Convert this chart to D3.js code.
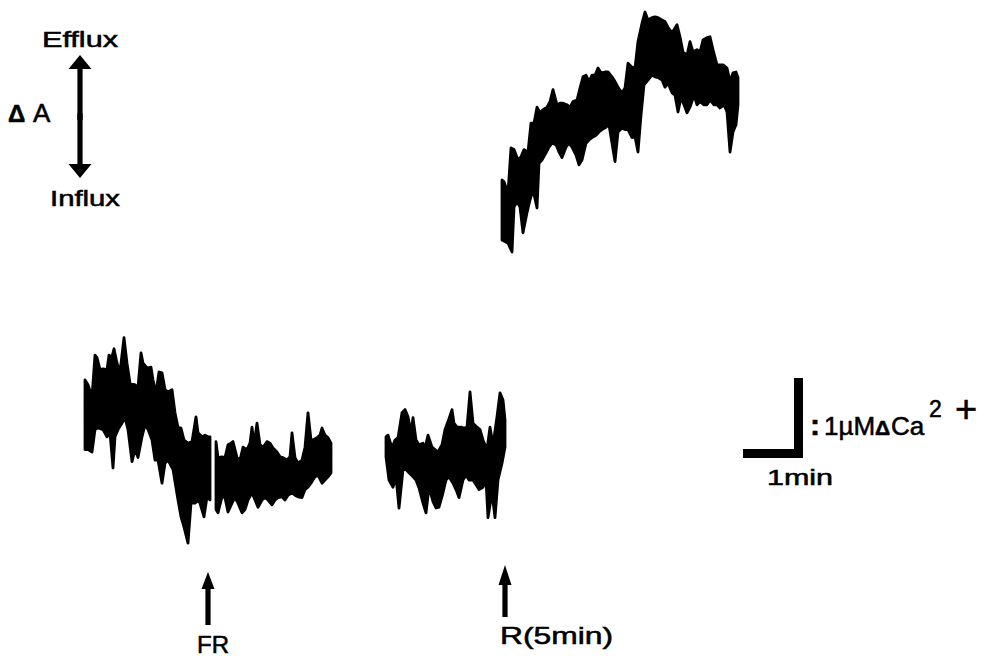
<!DOCTYPE html>
<html>
<head>
<meta charset="utf-8">
<script src="https://cdn.jsdelivr.net/npm/d3@7/dist/d3.min.js"></script>
<style>
  html, body { margin: 0; padding: 0; background: #fff; }
  svg { display: block; }
  text { font-family: "Liberation Sans", Arial, Helvetica, sans-serif; fill: #000; stroke: #000; stroke-width: 0.55px; }
</style>
</head>
<body>
<div id="chart"></div>
<script>
// Absorbance trace recorded as ΔCa (µM, arbitrary zero) against chart time (s).
// Each segment is a noisy band: its upper and lower envelope as [time, µM].

// Control, up to the FR addition
const controlUpper = [
  [0,2.25],[3,2.19],[7,2.04],[10,2.56],[12,2.53],[15,2.38],[18,2.39],[22,2.38],[24,2.56],[27,2.54],
  [29,2.64],[32,2.46],[35,2.35],[39,2.78],[42,2.46],[45,2.21],[50,2.19],[53,2.16],[56,2.59],[58,2.46],
  [62,2.40],[66,2.41],[68,2.25],[71,2.09],[74,2.35],[77,2.34],[80,2.13],[83,2.10],[87,2.13],[90,1.84],
  [93,1.66],[96,1.65],[99,1.50],[103,1.46],[107,1.48],[111,1.79],[113,1.59],[117,1.54],[120,1.56],[123,1.54],[125,1.54]
];
const controlLower = [
  [0,1.38],[3,1.38],[7,1.35],[10,1.63],[13,1.65],[18,1.63],[22,1.54],[25,1.59],[28,1.15],[30,1.54],
  [33,1.63],[37,1.71],[40,1.78],[43,1.63],[47,1.23],[50,1.38],[53,1.28],[57,1.54],[60,1.69],[63,1.63],
  [67,1.50],[70,1.25],[73,1.25],[77,0.96],[80,1.21],[83,1.25],[88,1.13],[93,0.75],[96,0.54],[99,0.41],
  [103,0.21],[106,0.71],[110,0.71],[114,0.75],[119,0.54],[122,0.79],[125,0.75]
];

// After FR
const frUpper = [
  [131,1.48],[133,1.28],[137,1.29],[140,1.28],[143,1.44],[146,1.46],[148,1.48],[152,1.28],[155,1.25],[158,1.41],
  [162,1.38],[165,1.46],[167,1.66],[169,1.44],[172,1.71],[175,1.44],[178,1.41],[182,1.48],[185,1.46],[188,1.40],
  [192,1.35],[195,1.29],[198,1.28],[202,1.25],[205,1.29],[207,1.59],[210,1.28],[213,1.21],[217,1.25],[220,1.41],
  [223,1.84],[226,1.50],[228,1.50],[232,1.53],[235,1.56],[237,1.65],[240,1.56],[243,1.53],[246,1.46]
];
const frLower = [
  [131,0.63],[133,0.59],[137,0.79],[140,0.78],[143,0.60],[147,0.71],[150,0.78],[153,0.71],[157,0.59],[160,0.63],
  [163,0.75],[167,0.84],[170,0.75],[173,0.66],[177,0.75],[180,0.78],[183,0.75],[187,0.69],[190,0.75],[193,0.78],
  [197,0.79],[200,0.75],[203,0.81],[207,0.84],[210,0.81],[213,0.79],[217,0.78],[220,0.88],[223,0.91],[227,0.98],
  [230,1.04],[233,1.06],[237,0.96],[240,1.00],[243,1.04],[246,1.09]
];

// Later in FR, up to R
const lateUpper = [
  [301,1.54],[303,1.56],[307,1.40],[310,1.50],[313,1.53],[317,1.84],[320,1.88],[323,1.79],[326,1.59],[328,1.78],
  [331,1.50],[334,1.44],[338,1.46],[340,1.40],[343,1.56],[347,1.41],[350,1.38],[353,1.35],[357,1.44],[360,1.63],
  [363,1.73],[367,1.88],[369,1.71],[372,1.66],[376,1.66],[379,1.65],[382,1.66],[385,2.10],[388,1.71],[392,1.66],
  [395,1.63],[398,1.50],[402,1.38],[405,1.66],[408,1.44],[412,1.79],[415,2.09],[418,2.00],[420,1.75]
];
const lateLower = [
  [301,1.29],[304,1.00],[308,0.91],[311,1.04],[314,0.65],[318,1.13],[321,1.13],[324,1.09],[328,1.04],[331,1.00],
  [334,0.90],[338,0.71],[341,0.59],[344,0.91],[348,0.73],[351,0.65],[354,0.66],[358,0.84],[361,1.00],[364,1.04],
  [368,0.96],[371,0.88],[374,0.78],[378,1.00],[381,1.06],[384,1.00],[388,1.00],[391,0.94],[394,0.88],[398,0.91],
  [401,1.00],[403,0.53],[407,0.84],[410,0.53],[413,1.00],[417,1.21],[420,1.41]
];

// After R (5 min)
const recoveryUpper = [
  [417,4.75],[419,4.73],[423,4.59],[426,5.15],[429,5.13],[433,5.00],[436,5.04],[439,5.13],[443,5.10],[446,5.46],
  [449,5.46],[452,5.66],[455,5.59],[458,5.63],[462,5.66],[465,5.73],[468,5.88],[472,5.69],[475,5.71],[478,5.71],
  [482,5.69],[485,5.66],[488,5.73],[492,5.75],[495,5.90],[498,6.04],[501,6.06],[504,5.98],[507,6.06],[510,6.06],
  [513,6.15],[516,6.09],[520,6.10],[523,6.10],[527,6.04],[530,5.98],[533,5.91],[537,5.84],[540,5.90],[543,6.21],
  [547,6.16],[550,6.15],[553,6.48],[557,6.71],[560,6.85],[563,6.75],[567,6.78],[570,6.79],[573,6.78],[577,6.75],
  [580,6.73],[583,6.66],[587,6.59],[590,6.65],[592,6.69],[595,6.54],[598,6.35],[602,6.31],[605,6.48],[608,6.35],
  [612,6.38],[615,6.35],[618,6.50],[622,6.53],[625,6.54],[628,6.38],[632,6.19],[635,6.19],[638,6.19],[642,6.15],
  [645,5.98],[648,6.09],[651,6.10],[653,6.03]
];
const recoveryLower = [
  [417,4.00],[420,3.98],[423,3.96],[427,3.85],[429,4.41],[432,4.48],[435,4.41],[438,4.09],[442,4.34],[445,4.50],
  [448,4.63],[452,4.40],[454,4.96],[457,5.00],[461,5.09],[464,5.16],[467,5.21],[471,5.19],[474,5.10],[477,5.03],
  [481,5.16],[484,5.21],[487,5.16],[491,5.06],[494,4.94],[497,5.00],[501,5.21],[504,5.25],[507,5.28],[511,5.31],
  [514,5.35],[517,5.38],[521,5.41],[524,5.44],[527,5.21],[530,4.98],[533,5.35],[537,5.40],[540,5.38],[543,5.38],
  [547,5.28],[550,5.29],[553,5.10],[556,5.56],[559,5.94],[563,6.00],[567,6.06],[570,6.04],[573,6.03],[577,6.00],
  [580,5.91],[583,5.96],[587,5.84],[590,5.81],[593,5.60],[596,5.78],[599,5.69],[602,5.59],[605,5.66],[609,5.81],
  [612,5.69],[615,5.73],[619,5.69],[622,5.69],[625,5.75],[629,5.69],[632,5.69],[635,5.65],[639,5.69],[642,5.60],
  [645,5.10],[648,5.35],[651,5.44],[653,5.69]
];

// Event markers (chart time, s)
const markerLabels = ["FR", "R(5min)"];
const markerTimes = [123, 420];

// Calibration bars
const calibrationMinutes = [1];
const calibrationMicromolar = [1];

// Direction labels for the absorbance axis
const directionLabels = ["Efflux", "Influx"];

const W = 988, H = 658;
const svg = d3.select("#chart").append("svg")
  .attr("width", W).attr("height", H)
  .attr("viewBox", `0 0 ${W} ${H}`);
svg.append("rect").attr("width", W).attr("height", H).attr("fill", "#fff");

// 1 s of chart time = 1 px, 1 µM = 80 px
const x = d3.scaleLinear().domain([0, 653]).range([85, 738]);
const y = d3.scaleLinear().domain([0, 7]).range([560, 0]);

const band = d3.line()
  .x(d => x(d[0]))
  .y(d => y(d[1]))
  .curve(d3.curveLinearClosed);

const segments = [
  [controlUpper, controlLower],
  [frUpper, frLower],
  [lateUpper, lateLower],
  [recoveryUpper, recoveryLower]
];

svg.append("g").attr("class", "traces")
  .selectAll("path")
  .data(segments)
  .join("path")
  .attr("d", ([upper, lower]) => band(upper.concat(lower.slice().reverse())))
  .attr("fill", "#000")
  .attr("stroke", "#000")
  .attr("stroke-width", 2.8)
  .attr("stroke-linejoin", "round");

// Filled arrow: tip, head base and tail given as y positions
function arrowPath(cx, tipY, headY, tailY, headHalf, shaftHalf) {
  const p = d3.path();
  p.moveTo(cx, tipY);
  p.lineTo(cx + headHalf, headY);
  p.lineTo(cx + shaftHalf, headY);
  p.lineTo(cx + shaftHalf, tailY);
  p.lineTo(cx - shaftHalf, tailY);
  p.lineTo(cx - shaftHalf, headY);
  p.lineTo(cx - headHalf, headY);
  p.closePath();
  return p.toString();
}

// Event arrows and labels
const markerLayout = [
  { tip: 572, head: 589, tail: 625, base: 653, dx: -11 },
  { tip: 565, head: 585, tail: 617, base: 644, dx: -5, len: 113 }
];
const markers = svg.append("g").attr("class", "markers");
markerTimes.forEach((t, i) => {
  const L = markerLayout[i];
  markers.append("path")
    .attr("d", arrowPath(x(t), L.tip, L.head, L.tail, 6.5, 2.6))
    .attr("fill", "#000");
  const label = markers.append("text")
    .attr("x", x(t) + L.dx)
    .attr("y", L.base)
    .attr("font-size", 24)
    .text(markerLabels[i]);
  if (L.len) label.attr("textLength", L.len).attr("lengthAdjust", "spacingAndGlyphs");
});

// ΔA direction indicator
const dir = svg.append("g").attr("class", "direction");
dir.append("path").attr("d", arrowPath(80, 55, 69, 120, 11.5, 2.6)).attr("fill", "#000");
dir.append("path").attr("d", arrowPath(80, 55, 69, 120, 11.5, 2.6))
  .attr("transform", "translate(0,233) scale(1,-1)").attr("fill", "#000");
dir.append("text").attr("x", 42).attr("y", 47).attr("font-size", 22)
  .attr("textLength", 76).attr("lengthAdjust", "spacingAndGlyphs").text(directionLabels[0]);
dir.append("text").attr("x", 50).attr("y", 206).attr("font-size", 22)
  .attr("textLength", 70).attr("lengthAdjust", "spacingAndGlyphs").text(directionLabels[1]);
const dA = dir.append("text").attr("y", 122);
dA.append("tspan").attr("x", 8).attr("font-size", 24).attr("font-weight", "bold").text("Δ");
dA.append("tspan").attr("x", 33).attr("font-size", 26).text("A");

// Calibration: 1 min horizontal, 1 µM vertical, joined at the corner
const cal = svg.append("g").attr("class", "calibration");
const cornerX = 803, cornerY = 458, thick = 9;
const barW = x(calibrationMinutes[0] * 60) - x(0);
const barH = y(0) - y(calibrationMicromolar[0]);
cal.append("rect").attr("x", cornerX - barW).attr("y", cornerY - thick)
  .attr("width", barW).attr("height", thick).attr("fill", "#000");
cal.append("rect").attr("x", cornerX - thick).attr("y", cornerY - barH)
  .attr("width", thick).attr("height", barH).attr("fill", "#000");
cal.append("text").attr("x", 767).attr("y", 485).attr("font-size", 22)
  .attr("textLength", 66).attr("lengthAdjust", "spacingAndGlyphs")
  .text(calibrationMinutes[0] + "min");
const ca = cal.append("text").attr("y", 435).attr("font-size", 26);
ca.append("tspan").attr("x", 810).attr("font-size", 30).attr("font-weight", "bold").text(":");
ca.append("tspan").attr("x", 824).text(calibrationMicromolar[0] + "µM");
ca.append("tspan").attr("x", 875).attr("font-size", 21).attr("font-weight", "bold").text("Δ");
ca.append("tspan").attr("x", 891).text("Ca");
ca.append("tspan").attr("x", 929).attr("y", 417).attr("font-size", 23).text("2");
ca.append("tspan").attr("x", 955).attr("y", 422).attr("font-size", 38).text("+");
</script>
</body>
</html>
